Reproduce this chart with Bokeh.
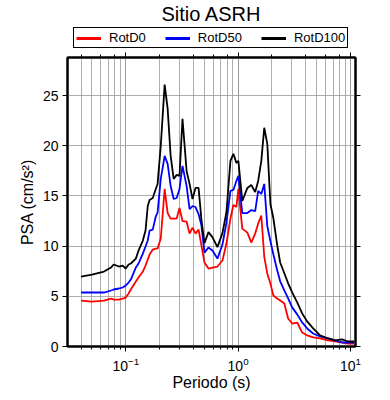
from bokeh.plotting import figure
from bokeh.layouts import column
from bokeh.models import (LogAxis, LinearAxis, Range1d, Legend, LegendItem,
                          FixedTicker, LogTicker, Label)
from bokeh.embed import file_html
from bokeh.resources import INLINE

# Period (s)
period = [0.040, 0.050, 0.064, 0.074, 0.078, 0.087, 0.094, 0.100, 0.106, 0.111,
          0.123, 0.130, 0.142, 0.150, 0.157, 0.163, 0.174, 0.185, 0.192, 0.205,
          0.222, 0.236, 0.251, 0.267, 0.284, 0.301, 0.320, 0.348, 0.370, 0.393,
          0.418, 0.445, 0.472, 0.502, 0.545, 0.591, 0.655, 0.726, 0.788, 0.855,
          0.908, 0.966, 1.006, 1.09, 1.21, 1.31, 1.42, 1.51, 1.61, 1.71,
          1.82, 1.94, 2.06, 2.23, 2.37, 2.58, 2.79, 3.03, 3.36, 3.72,
          4.12, 4.66, 5.37, 6.33, 7.30, 8.42, 9.52, 10.8]

rotd0 = [4.58, 4.48, 4.58, 4.78, 4.68, 4.68, 4.78, 4.88, 5.28, 5.68,
         6.47, 6.87, 7.47, 8.07, 8.67, 9.16, 9.66, 9.76, 9.76, 10.76,
         15.7, 13.3, 12.75, 12.75, 12.75, 13.8, 12.5, 12.45, 11.25, 11.85,
         11.25, 11.65, 10.06, 8.37, 7.77, 7.87, 7.97, 8.57, 10.26, 12.75,
         14.1, 13.9, 15.7, 11.75, 11.35, 10.36, 11.25, 12.25, 13.05, 8.96,
         7.27, 6.27, 5.08, 4.78, 4.58, 4.28, 2.79, 2.29, 2.39, 1.39,
         1.10, 0.90, 0.80, 0.60, 0.50, 0.40, 0.30, 0.30]

rotd50 = [5.38, 5.38, 5.38, 5.58, 5.68, 5.78, 5.88, 6.08, 6.37, 6.67,
          7.87, 8.27, 9.26, 9.96, 10.56, 11.55, 11.65, 12.95, 13.35, 16.7,
          19.0, 18.2, 16.0, 14.7, 14.8, 15.7, 18.0, 16.0, 13.7, 14.0,
          13.9, 13.2, 12.05, 9.36, 9.86, 9.56, 8.76, 10.16, 12.35, 15.5,
          15.6, 16.5, 17.0, 13.3, 13.3, 13.6, 13.5, 15.5, 15.2, 16.2,
          12.0, 10.5, 9.2, 7.6, 6.5, 5.6, 4.8, 3.9, 3.2, 2.4,
          1.8, 1.3, 1.0, 0.8, 0.6, 0.4, 0.4, 0.4]

rotd100 = [6.97, 7.17, 7.47, 7.87, 8.17, 7.97, 8.07, 7.77, 8.17, 8.27,
           8.76, 9.56, 10.56, 11.55, 14.0, 14.6, 14.8, 15.7, 16.2, 20.0,
           26.1, 23.7, 19.0, 16.7, 17.1, 17.0, 22.7, 17.5, 16.2, 14.7,
           15.8, 15.8, 12.6, 10.3, 11.4, 10.9, 9.9, 11.3, 13.4, 18.5,
           19.2, 18.3, 18.5, 14.5, 15.8, 16.1, 15.4, 16.5, 18.5, 21.8,
           20.2, 14.2, 12.8, 10.1, 8.37, 7.3, 6.3, 5.4, 4.4, 3.3,
           2.5, 1.8, 1.1, 0.8, 0.6, 0.7, 0.5, 0.5]

series_names = ["RotD0", "RotD50", "RotD100"]
series_colors = ["#ff0000", "#0000ff", "#000000"]
y_ticks = [0, 5, 10, 15, 20, 25]
title_text = "Sitio ASRH"

FONT = "Liberation Sans"
series = [rotd0, rotd50, rotd100]

# ---------------- header: title + legend (frame aligned with the main plot) ----------------
h = figure(width=385, height=50, x_range=Range1d(0, 1), y_range=Range1d(-2, -1),
           min_border_left=67, min_border_right=30,
           min_border_top=0, min_border_bottom=0,
           output_backend="svg", toolbar_location=None)
h.axis.visible = False
h.grid.visible = False
h.outline_line_color = None

h.add_layout(Label(x=144, y=37, x_units="screen", y_units="screen", text=title_text,
                   text_align="center", text_baseline="middle",
                   text_font=FONT, text_font_size="20px", text_color="black"))

# legend proxies (same series, outside the header's visible range)
proxies = [h.line(period, ys, line_color=c, line_width=3) for ys, c in zip(series, series_colors)]
legend = Legend(items=[LegendItem(label=n, renderers=[r]) for n, r in zip(series_names, proxies)],
                orientation="horizontal", location=(6, 2))
legend.label_text_font = FONT
legend.label_text_font_size = "13px"
legend.label_text_color = "black"
legend.glyph_width = 25
legend.glyph_height = 10
legend.label_height = 10
legend.label_standoff = 8
legend.spacing = 19
legend.padding = 2
legend.margin = 0
legend.border_line_color = "black"
legend.border_line_width = 1.8
legend.border_line_alpha = 1
h.add_layout(legend, "center")

# ---------------- main plot ----------------
p = figure(x_axis_type="log", x_range=Range1d(0.0303, 11.1), y_range=Range1d(0, 28.8),
           width=385, height=348, min_border_left=67, min_border_right=30,
           min_border_top=7, min_border_bottom=52,
           output_backend="svg", toolbar_location=None)

for ys, c, n in zip(series, series_colors, series_names):
    p.line(period, ys, line_color=c, line_width=1.8, name=n)

p.xgrid.grid_line_color = "#999999"
p.xgrid.grid_line_width = 0.8
p.xgrid.minor_grid_line_color = "#999999"
p.xgrid.minor_grid_line_width = 0.8
p.ygrid.grid_line_color = "#999999"
p.ygrid.grid_line_width = 0.8
p.ygrid.ticker = FixedTicker(ticks=y_ticks)

p.outline_line_color = "black"
p.outline_line_width = 2


def style_axis(ax):
    ax.axis_line_color = "black"
    ax.axis_line_width = 2
    ax.major_tick_in = 0
    ax.major_tick_out = 5
    ax.minor_tick_in = 0
    ax.minor_tick_out = 3
    ax.major_tick_line_color = "black"
    ax.minor_tick_line_color = "black"
    ax.major_label_text_font = FONT
    ax.major_label_text_font_size = "14px"
    ax.major_label_text_color = "black"
    ax.axis_label_text_font = FONT
    ax.axis_label_text_font_size = "16px"
    ax.axis_label_text_font_style = "normal"
    ax.axis_label_text_color = "black"


xa = p.xaxis[0]
style_axis(xa)
xa.axis_label = "Periodo (s)"
xa.major_label_standoff = 5
xa.axis_label_standoff = 0

ya = p.yaxis[0]
style_axis(ya)
ya.ticker = FixedTicker(ticks=y_ticks, minor_ticks=[])
ya.axis_label = "PSA (cm/s²)"
ya.major_label_standoff = 4
ya.axis_label_standoff = 4

top = LogAxis(ticker=LogTicker())
style_axis(top)
top.major_label_text_font_size = "1px"
top.major_label_text_alpha = 0
top.major_label_standoff = 0
p.add_layout(top, "above")

right = LinearAxis(ticker=FixedTicker(ticks=y_ticks, minor_ticks=[]))
style_axis(right)
right.major_label_text_font_size = "1px"
right.major_label_text_alpha = 0
right.major_label_standoff = 0
p.add_layout(right, "right")

layout = column(h, p, spacing=0)
open("out.html", "w").write(file_html(layout, INLINE))
